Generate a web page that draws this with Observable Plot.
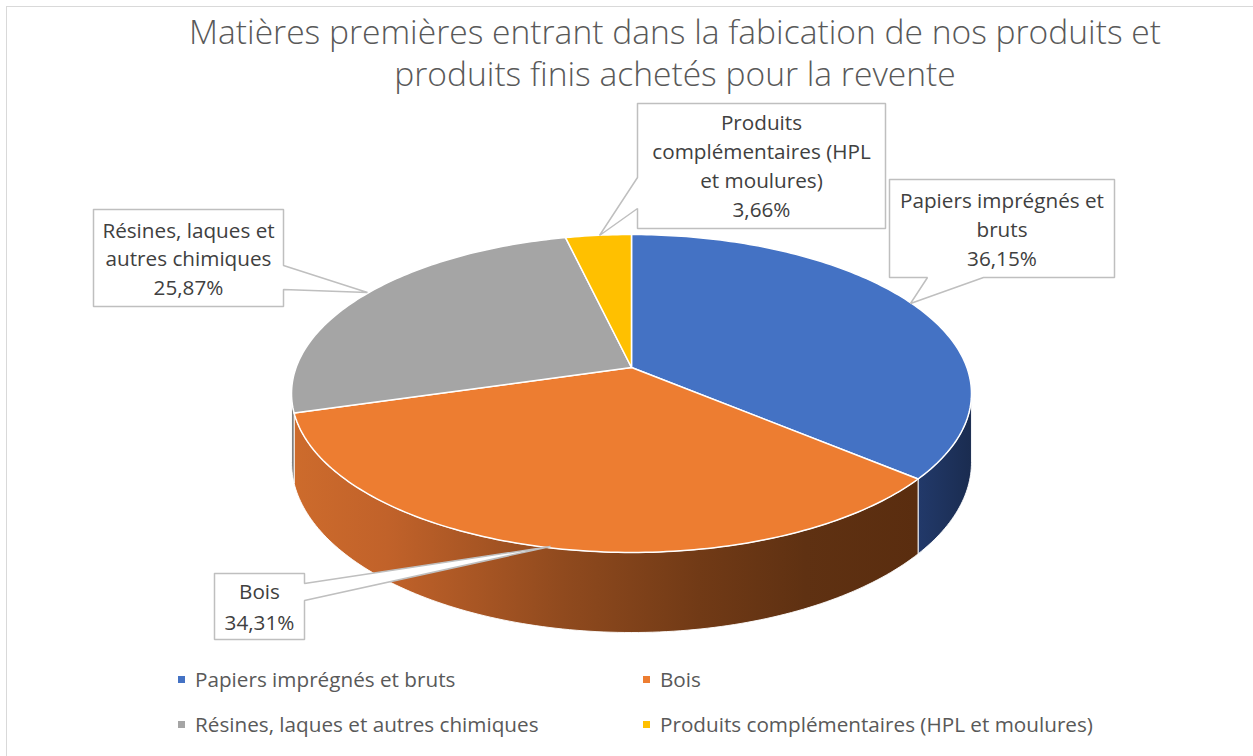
<!DOCTYPE html>
<html><head><meta charset="utf-8">
<script src="https://cdn.jsdelivr.net/npm/d3@7"></script>
<script src="https://cdn.jsdelivr.net/npm/@observablehq/plot@0.6"></script>
<style>
html,body{margin:0;padding:0;background:#fff;}
#chart{position:relative;width:1253px;height:756px;overflow:hidden;font-family:"Open Sans",sans-serif;}
#frame{position:absolute;left:6px;top:6px;width:1270px;height:770px;border:1.5px solid #d9d9d9;box-sizing:border-box;}
#plot{position:absolute;left:0;top:0;}
#title{position:absolute;left:0;top:10px;width:1350px;text-align:center;color:#595959;font-size:33.6px;font-weight:300;line-height:42px;white-space:nowrap;}
.leg{position:absolute;white-space:nowrap;color:#595959;font-size:20.7px;line-height:26px;}
.sw{position:absolute;width:7px;height:7px;}
</style>
</head><body>
<div id="chart"><div id="frame"></div><div id="plot"></div><div id="title"></div><div id="legend"></div></div>
<script>
// ---------------- data ----------------
const categories = ["Papiers imprégnés et bruts", "Bois", "Résines, laques et autres chimiques", "Produits complémentaires (HPL et moulures)"];
const values = [36.15, 34.31, 25.87, 3.66];
const labelNames = [["Papiers imprégnés et", "bruts"], ["Bois"], ["Résines, laques et", "autres chimiques"], ["Produits", "complémentaires (HPL", "et moulures)"]];
const titleLines = ["Matières premières entrant dans la fabication de nos produits et", "produits finis achetés pour la revente"];
const topColors = ["#4472C4", "#ED7D31", "#A5A5A5", "#FFC000"];
const sideFills = ["url(#sideBlue)", "url(#sideOrange)", "url(#sideGray)", "url(#sideYellow)"];

// ---------------- layout ----------------
const view = {cx: 631, cy: 367, rx: 335.4, ry: 154.7, k: 0.1635, thick: 0.433};
const callouts = [
  {box: [889, 179, 1114, 277], side: "bottom", base: [983, 927], tip: [910, 303], first: 207, gap: 29},
  {box: [214, 573, 304, 639], side: "right", base: [583, 600], tip: [550, 546], first: 598, gap: 31},
  {box: [93, 209, 283, 306], side: "right", base: [265, 289], tip: [367, 292], first: 237, gap: 28.5},
  {box: [637, 103, 885, 228], side: "left", base: [208, 177], tip: [599, 235], first: 129, gap: 29}
];
const legendPos = {cols: [178, 643], rows: [687, 732]};

const fr = v => v.toFixed(2).replace(".", ",") + "%";
const total = d3.sum(values);
const U = p => ({x: (p[0] - view.cx) / view.rx, y: (view.cy - p[1]) / view.ry});

// perspective projection of a point on the rim (theta clockwise from top)
function proj(theta, drop) {
  const X = Math.sin(theta), Z = Math.cos(theta), w = 1 + view.k * Z;
  return {x: X / w, y: (Z - drop) / w};
}
function arc(a, b, drop) {
  const n = Math.max(2, Math.ceil(Math.abs(b - a) / (Math.PI / 180)));
  return d3.range(n + 1).map(i => proj(a + (b - a) * i / n, drop));
}

let acc = 0;
const slices = values.map((v, i) => {
  const a = 2 * Math.PI * acc / total; acc += v;
  const b = 2 * Math.PI * acc / total;
  return {i, a, b};
});

const phi = Math.asin(view.k);
const visA = Math.PI / 2 + phi, visB = 3 * Math.PI / 2 - phi;

const sideMarks = slices.map(s => {
  const a = Math.max(s.a, visA), b = Math.min(s.b, visB);
  if (a >= b) return null;
  const pts = [...arc(a, b, 0), ...arc(b, a, view.thick)];
  pts.push(pts[0]);
  return Plot.line(pts, {x: "x", y: "y", fill: sideFills[s.i], stroke: "white", strokeWidth: 1, strokeOpacity: 0.9, curve: "linear"});
}).filter(Boolean);

const topMarks = slices.map(s => {
  const pts = [{x: 0, y: 0}, ...arc(s.a, s.b, 0), {x: 0, y: 0}];
  return Plot.line(pts, {x: "x", y: "y", fill: topColors[s.i], stroke: "white", strokeWidth: 1.5, curve: "linear"});
});

const calloutMarks = callouts.map(c => {
  const [x0, y0, x1, y1] = c.box;
  const p = [[x0, y0], [x1, y0]];
  if (c.side === "right") p.push([x1, c.base[0]], c.tip, [x1, c.base[1]]);
  p.push([x1, y1]);
  if (c.side === "bottom") p.push([c.base[0], y1], c.tip, [c.base[1], y1]);
  p.push([x0, y1]);
  if (c.side === "left") p.push([x0, c.base[0]], c.tip, [x0, c.base[1]]);
  p.push([x0, y0]);
  return Plot.line(p.map(U), {x: "x", y: "y", fill: "white", stroke: "#bfbfbf", strokeWidth: 1.5, strokeLinejoin: "miter", curve: "linear"});
});

const labelRows = [];
callouts.forEach((c, i) => {
  const lines = [...labelNames[i], fr(values[i])];
  const cxp = (c.box[0] + c.box[2]) / 2;
  lines.forEach((t, j) => labelRows.push({...U([cxp, c.first + j * c.gap]), t}));
});

function defs() {
  const g = d3.create("svg:defs");
  const grad = (id, stops) => {
    const lg = g.append("linearGradient").attr("id", id).attr("x1", 0).attr("x2", 1).attr("y1", 0).attr("y2", 0);
    stops.forEach(([o, c]) => lg.append("stop").attr("offset", o).attr("stop-color", c));
  };
  grad("sideOrange", [[0, "#cd6b2c"], [0.15, "#c1622a"], [0.43, "#904a1e"], [0.65, "#713a16"], [0.82, "#5f3112"], [1, "#5a2d0f"]]);
  grad("sideBlue", [[0, "#22396a"], [1, "#1a2c50"]]);
  grad("sideGray", [[0, "#8a8a8a"], [1, "#6a6a6a"]]);
  grad("sideYellow", [[0, "#d4a000"], [1, "#a07800"]]);
  return g.node();
}

const chart = Plot.plot({
  width: 1253, height: 756, margin: 0,
  x: {domain: [-1, 1], range: [view.cx - view.rx, view.cx + view.rx], axis: null},
  y: {domain: [-1, 1], range: [view.cy + view.ry, view.cy - view.ry], axis: null},
  style: {background: "transparent", overflow: "visible"},
  marks: [
    defs,
    ...sideMarks,
    ...topMarks,
    ...calloutMarks,
    Plot.text(labelRows, {x: "x", y: "y", text: "t", fill: "#404040", fontSize: 20.7, fontFamily: "Open Sans", lineAnchor: "bottom", textAnchor: "middle"})
  ]
});
document.getElementById("plot").appendChild(chart);

document.getElementById("title").innerHTML = titleLines.map(t => `<div>${t}</div>`).join("");

const leg = document.getElementById("legend");
categories.forEach((c, i) => {
  const x = legendPos.cols[i % 2], base = legendPos.rows[Math.floor(i / 2)];
  const sw = document.createElement("div");
  sw.className = "sw"; sw.style.left = x + "px"; sw.style.top = (base - 11) + "px"; sw.style.background = topColors[i];
  const tx = document.createElement("div");
  tx.className = "leg"; tx.style.left = (x + 17) + "px"; tx.style.top = (base - 21.5) + "px"; tx.textContent = c;
  leg.appendChild(sw); leg.appendChild(tx);
});
</script>
</body></html>
